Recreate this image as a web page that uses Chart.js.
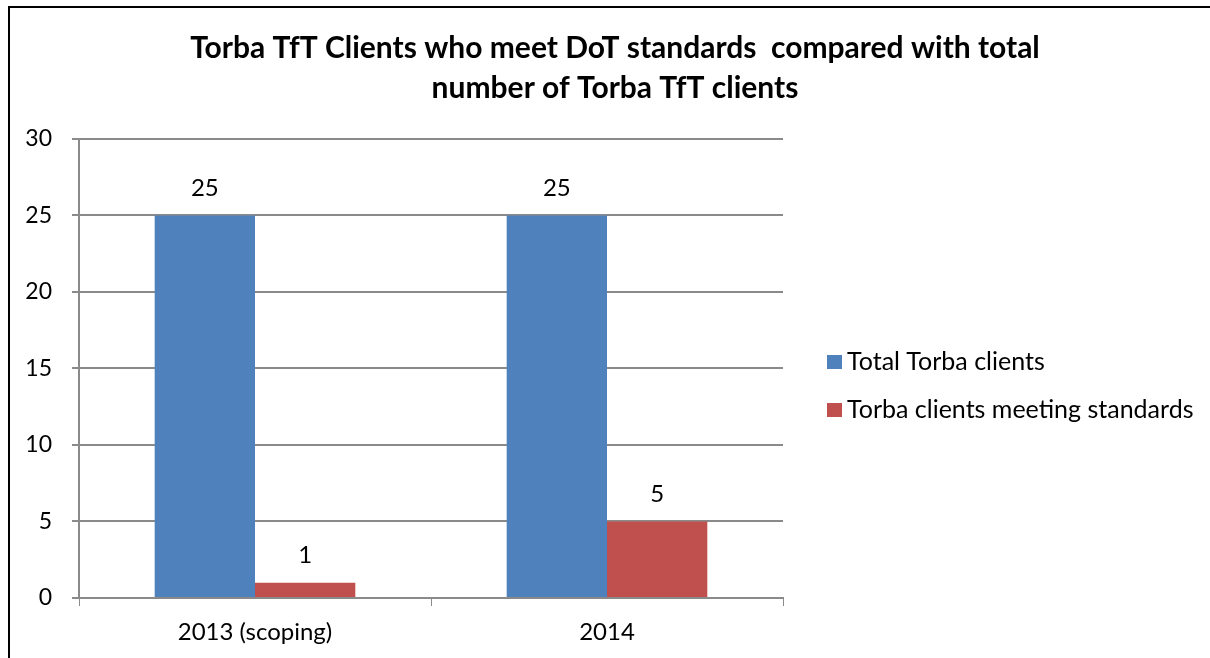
<!DOCTYPE html>
<html>
  <head>
    <title>Torba TfT Clients</title>
    <script src="https://cdn.jsdelivr.net/npm/chart.js"></script>
    <style>
      body {
        margin: 0;
        overflow: hidden;
        background: #fff;
      }

      .frame {
        position: absolute;
        left: 8px;
        top: 6px;
        width: 1300px;
        height: 800px;
        border: 2px solid #000;
      }

      .chart-container {
        position: absolute;
        left: 0;
        top: 0;
        width: 1230px;
        height: 658px;
      }
    </style>
  </head>
  <body>
    <div class="frame"></div>
    <div class="chart-container">
      <canvas id="myChart"></canvas>
    </div>

    <script>
      // chart data
      const categories = ["2013 (scoping)", "2014"];
      const totalClients = [25, 25];
      const meetingStandards = [1, 5];
      const seriesNames = ["Total Torba clients", "Torba clients meeting standards"];
      const seriesColors = ["#4F81BD", "#C0504D"];
      const titleLines = [
        "Torba TfT Clients who meet DoT standards  compared with total",
        "number of Torba TfT clients",
      ];

      const fontName = "Lato, 'Open Sans', sans-serif";
      const gridGray = "#8a8a8a";

      // writes the value above each bar
      const valueLabels = {
        id: "valueLabels",
        afterDatasetsDraw(chart) {
          const ctx = chart.ctx;
          ctx.save();
          ctx.font = "24px " + fontName;
          ctx.fillStyle = "#000";
          ctx.textAlign = "center";
          ctx.textBaseline = "middle";
          chart.data.datasets.forEach((ds, i) => {
            chart.getDatasetMeta(i).data.forEach((bar, j) => {
              ctx.fillText(ds.data[j], bar.x, bar.y - 27);
            });
          });
          ctx.restore();
        },
      };

      // legend drawn in the empty space right of the plot
      const sideLegend = {
        id: "sideLegend",
        afterDraw(chart) {
          const ctx = chart.ctx;
          const area = chart.chartArea;
          const midY = (area.top + area.bottom) / 2 + 17.5;
          ctx.save();
          ctx.font = "25px " + fontName;
          ctx.textAlign = "left";
          ctx.textBaseline = "middle";
          chart.data.datasets.forEach((ds, i) => {
            const y = midY + (i - 0.5) * 48;
            const x = area.right + 44;
            ctx.fillStyle = ds.backgroundColor;
            ctx.fillRect(x, y - 7, 15, 14);
            ctx.fillStyle = "#000";
            ctx.fillText(ds.label, x + 20, y);
          });
          ctx.restore();
        },
      };

      const ctx = document.getElementById("myChart").getContext("2d");
      new Chart(ctx, {
        type: "bar",
        data: {
          labels: categories,
          datasets: [
            {
              label: seriesNames[0],
              data: totalClients,
              backgroundColor: seriesColors[0],
            },
            {
              label: seriesNames[1],
              data: meetingStandards,
              backgroundColor: seriesColors[1],
            },
          ],
        },
        options: {
          responsive: true,
          maintainAspectRatio: false,
          animation: false,
          categoryPercentage: 0.57,
          barPercentage: 1,
          layout: {
            padding: { left: 10, right: 10, top: 0, bottom: 0 },
          },
          plugins: {
            title: {
              display: true,
              text: titleLines,
              color: "#000",
              font: { family: fontName, size: 30, weight: "bold", lineHeight: 1.333 },
              padding: { top: 28, bottom: 31 },
            },
            legend: { display: false },
            tooltip: { enabled: false },
          },
          scales: {
            x: {
              grid: {
                display: true,
                drawOnChartArea: false,
                drawTicks: true,
                tickLength: 8,
                color: gridGray,
              },
              border: { color: gridGray, width: 2 },
              ticks: {
                color: "#000",
                font: { family: fontName, size: 24 },
                padding: 11.6,
              },
            },
            y: {
              min: 0,
              max: 30,
              ticks: {
                stepSize: 5,
                color: "#000",
                font: { family: fontName, size: 23 },
                padding: 20,
              },
              grid: {
                color: gridGray,
                lineWidth: 2,
                tickLength: 7,
              },
              border: { color: gridGray, width: 2 },
              afterFit(scale) {
                scale.width = 69;
              },
            },
            // empty space on the right that holds the legend
            side: {
              type: "linear",
              position: "right",
              grid: { display: false },
              ticks: { display: false },
              border: { display: false },
              afterFit(scale) {
                scale.width = 437;
              },
            },
          },
        },
        plugins: [valueLabels, sideLegend],
      });
    </script>
  </body>
</html>
